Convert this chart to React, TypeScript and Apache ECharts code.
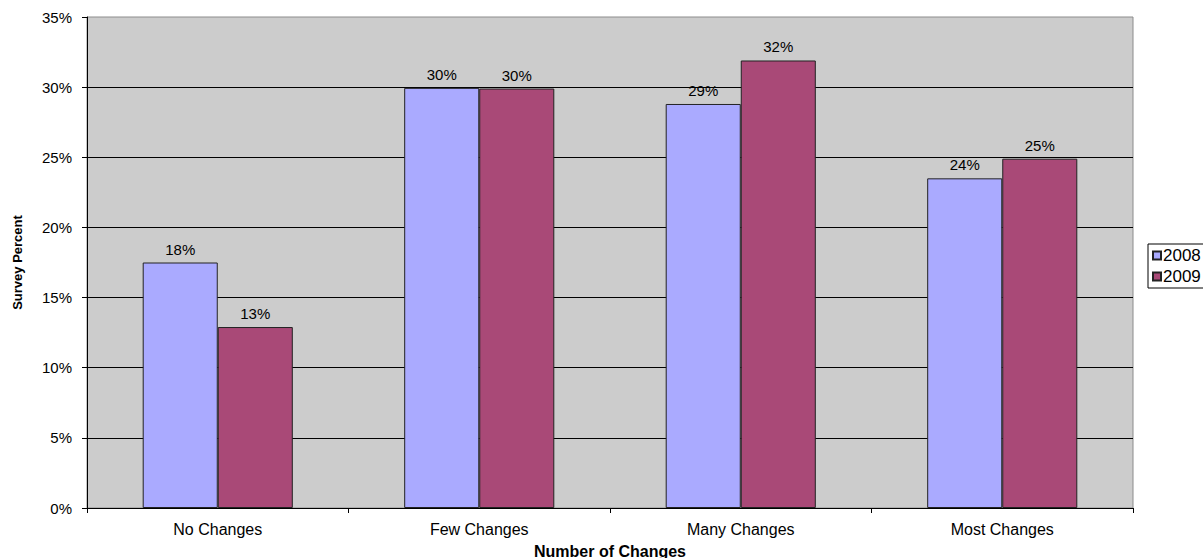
import React, { useEffect, useRef } from "react";
import * as echarts from "echarts";

const categories = ["No Changes", "Few Changes", "Many Changes", "Most Changes"];
const seriesNames = ["2008", "2009"];
const values2008 = [17.5, 29.95, 28.8, 23.5];
const values2009 = [12.9, 29.9, 31.9, 24.9];
const yTicks = [0, 5, 10, 15, 20, 25, 30, 35];

const FONT = "'Liberation Sans', Arial, sans-serif";
const COLORS = ["#AAAAFF", "#A94977"];

export default function App() {
  const ref = useRef<HTMLDivElement>(null);

  useEffect(() => {
    document.body.style.margin = "0";
    const chart = echarts.init(ref.current!, null, { renderer: "svg" });
    const label = {
      show: true,
      position: "top" as const,
      distance: 6,
      color: "#000",
      fontSize: 15,
      fontFamily: FONT,
      formatter: (p: any) => `${Math.round(p.value)}%`,
    };
    chart.setOption({
      animation: false,
      backgroundColor: "#fff",
      textStyle: { fontFamily: FONT },
      grid: {
        left: 87,
        right: 70,
        top: 17,
        bottom: 50,
        outerBoundsMode: "none",
        show: true,
        backgroundColor: "#CCCCCC",
        borderColor: "#8C8C8C",
        borderWidth: 1,
      },
      legend: {
        orient: "vertical",
        left: 1148,
        top: 244,
        data: seriesNames,
        icon: "rect",
        itemWidth: 8,
        itemHeight: 8,
        itemGap: 4,
        padding: [3, 6, 3, 4],
        backgroundColor: "#fff",
        borderColor: "#000",
        borderWidth: 1,
        borderRadius: 0,
        textStyle: { fontSize: 17, color: "#000", fontFamily: FONT, padding: [0, 0, 0, -3] },
      },
      xAxis: {
        type: "category",
        data: categories,
        name: "Number of Changes",
        nameLocation: "middle",
        nameGap: 35,
        nameTextStyle: { fontSize: 16, fontWeight: "bold", color: "#000", fontFamily: FONT },
        axisLine: { lineStyle: { color: "#000", width: 1 } },
        axisTick: { show: true, length: 5, lineStyle: { color: "#000" } },
        axisLabel: { fontSize: 16, color: "#000", margin: 13, fontFamily: FONT },
      },
      yAxis: {
        type: "value",
        min: 0,
        max: 35,
        interval: 5,
        name: "Survey Percent",
        nameLocation: "middle",
        nameRotate: 90,
        nameGap: 63,
        nameTextStyle: { fontSize: 13, fontWeight: "bold", color: "#000", fontFamily: FONT },
        axisLine: { show: true, lineStyle: { color: "#000", width: 1 } },
        axisTick: { show: true, length: 5, lineStyle: { color: "#000" } },
        axisLabel: {
          fontSize: 15,
          color: "#000",
          margin: 15,
          fontFamily: FONT,
          formatter: (v: number) => (yTicks.includes(v) ? `${v}%` : ""),
        },
        splitLine: { show: true, showMaxLine: false, lineStyle: { color: "#000", width: 1 } },
      },
      series: [
        {
          name: seriesNames[0],
          type: "bar",
          data: values2008,
          barGap: "0%",
          barCategoryGap: "42.6%",
          itemStyle: { color: COLORS[0], borderColor: "#222", borderWidth: 1 },
          label,
        },
        {
          name: seriesNames[1],
          type: "bar",
          data: values2009,
          barGap: "0%",
          barCategoryGap: "42.6%",
          itemStyle: { color: COLORS[1], borderColor: "#222", borderWidth: 1 },
          label,
        },
      ],
    });
    return () => chart.dispose();
  }, []);

  return <div ref={ref} style={{ width: 1203, height: 558 }} />;
}
